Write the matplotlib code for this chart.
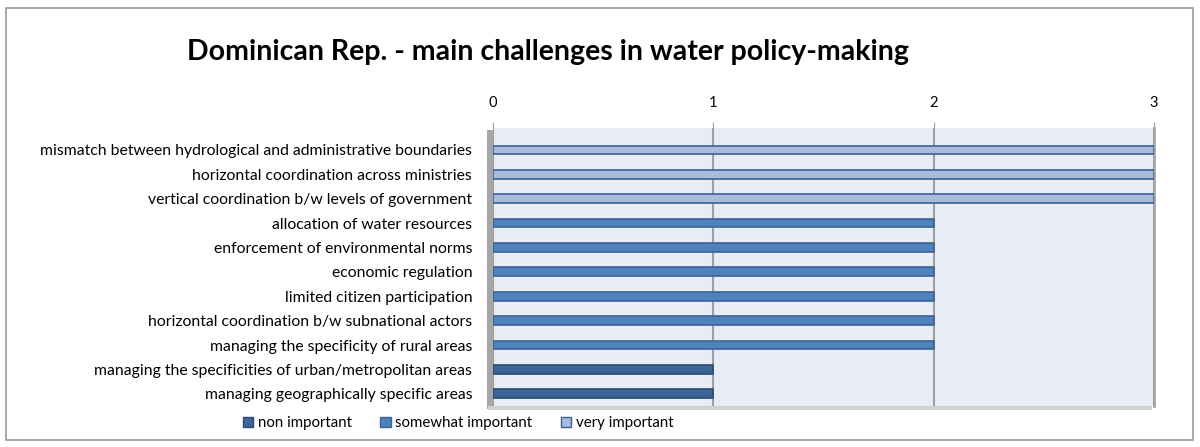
import matplotlib.pyplot as plt
from matplotlib.patches import Rectangle, Patch
import numpy as np

categories = [
    "mismatch between hydrological and administrative boundaries",
    "horizontal coordination across ministries",
    "vertical coordination b/w levels of government",
    "allocation of water resources",
    "enforcement of environmental norms",
    "economic regulation",
    "limited citizen participation",
    "horizontal coordination b/w subnational actors",
    "managing the specificity of rural areas",
    "managing the specificities of urban/metropolitan areas",
    "managing geographically specific areas",
]
non_important = [0, 0, 0, 0, 0, 0, 0, 0, 0, 1, 1]
somewhat_important = [0, 0, 0, 2, 2, 2, 2, 2, 2, 0, 0]
very_important = [3, 3, 3, 0, 0, 0, 0, 0, 0, 0, 0]
series_names = ["non important", "somewhat important", "very important"]
x_ticks = [0, 1, 2, 3]

plt.rcParams["font.family"] = ["Lato", "DejaVu Sans"]

W, H = 1200, 447
fig = plt.figure(figsize=(W / 100, H / 100), dpi=100)

# outer chart border
fig.patches.append(Rectangle((6 / W, 1 - 440 / H), 1187 / W, 432 / H,
                             transform=fig.transFigure, fill=False,
                             edgecolor="#9a9a9a", linewidth=1.2))

# 3d walls (left side wall + floor)
fig.patches.append(Rectangle((487 / W, 1 - 409 / H), 6 / W, 279 / H,
                             transform=fig.transFigure, facecolor="#a6a6a6",
                             edgecolor="none", zorder=0))
fig.patches.append(Rectangle((488 / W, 1 - 410 / H), 664 / W, 4 / H,
                             transform=fig.transFigure, facecolor="#d0d0d0",
                             edgecolor="none", zorder=0))

ax = fig.add_axes([493 / W, 1 - 406 / H, 661 / W, 278 / H])
ax.set_facecolor("#e8ecf5")

y = np.arange(len(categories))
colors = ["#3d6597", "#4f81bd", "#a9bcde"]
edges = ["#2c4a70", "#3a6496", "#3b6090"]
left = np.zeros(len(categories))
for vals, name, c, ec in zip([non_important, somewhat_important, very_important],
                             series_names, colors, edges):
    vals = np.array(vals, dtype=float)
    m = vals > 0
    ax.barh(y[m], vals[m], left=left[m], height=0.36, color=c,
            edgecolor=ec, linewidth=1.2, zorder=3)
    left += vals

ax.set_xlim(0, 3)
ax.set_ylim(10.5, -0.9)
ax.set_xticks(x_ticks)
ax.xaxis.tick_top()
ax.tick_params(axis="x", length=4, color="#a0a0a0", labelsize=10.5, pad=9)
ax.grid(axis="x", color="#a0a0a0", linewidth=1.5, zorder=1)

ax.set_yticks(y)
ax.set_yticklabels(categories, fontsize=11.3)
ax.tick_params(axis="y", length=0, pad=15)
ax.set_yticks(np.arange(-0.5, len(categories), 1), minor=True)
ax.tick_params(axis="y", which="minor", length=5, color="#a0a0a0")

for s in ["top", "left", "bottom"]:
    ax.spines[s].set_visible(False)
ax.spines["right"].set_color("#a6a6a6")
ax.spines["right"].set_linewidth(2)

fig.text(548 / W, 1 - 52 / H, "Dominican Rep. - main challenges in water policy-making",
         ha="center", va="center", fontsize=20.5, fontweight="bold")

handles = [Patch(facecolor=c, edgecolor=ec) for c, ec in zip(colors, edges)]
fig.legend(handles, series_names, loc="center", bbox_to_anchor=(458 / W, 1 - 423 / H),
           ncol=3, frameon=False, fontsize=10.8, handlelength=0.7, handleheight=0.7,
           handletextpad=0.3, columnspacing=1.9)

fig.savefig("out.png", dpi=100)
